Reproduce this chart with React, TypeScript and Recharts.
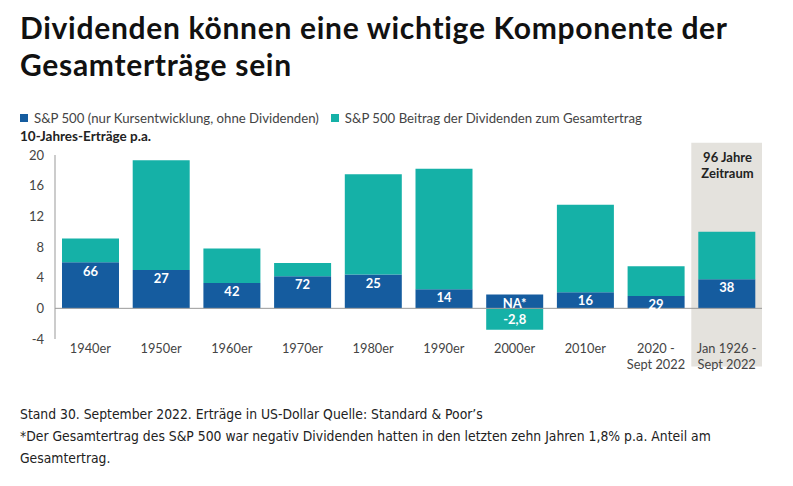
import React from "react";
import {
  BarChart,
  Bar,
  XAxis,
  YAxis,
  ReferenceLine,
  ReferenceArea,
  LabelList,
} from "recharts";

const categories = [
  "1940er",
  "1950er",
  "1960er",
  "1970er",
  "1980er",
  "1990er",
  "2000er",
  "2010er",
  "2020 - Sept 2022",
  "Jan 1926 - Sept 2022",
];
const priceReturn = [6.0, 5.0, 3.3, 4.2, 4.4, 2.5, 1.8, 2.1, 1.6, 3.8];
const dividendReturn = [3.1, 14.3, 4.5, 1.7, 13.1, 15.7, -2.8, 11.4, 3.9, 6.2];
const dividendShare = ["66", "27", "42", "72", "25", "14", "NA*", "16", "29", "38"];
const dividendLabels = ["", "", "", "", "", "", "-2,8", "", "", ""];
const yTicks = [-4, 0, 4, 8, 12, 16, 20];

const BLUE = "#155c9f";
const TEAL = "#15b1a7";
const FONT = "Lato, 'Noto Sans', sans-serif";

const data = categories.map((name, i) => ({
  name,
  price: priceReturn[i],
  dividend: dividendReturn[i],
  share: dividendShare[i],
  divLabel: dividendLabels[i],
}));

function CategoryTick(props: any) {
  const { x, y, payload } = props;
  const parts = String(payload.value).split(" - ");
  const lines = parts.length > 1 ? [parts[0] + " -", parts[1]] : parts;
  return (
    <g>
      {lines.map((l, i) => (
        <text
          key={i}
          x={x}
          y={y + 6 + i * 15.5}
          textAnchor="middle"
          fill="#444"
          fontSize={12.8}
          fontFamily={FONT}
        >
          {l}
        </text>
      ))}
    </g>
  );
}

function Swatch({ color }: { color: string }) {
  return (
    <span
      style={{
        display: "inline-block",
        width: 8,
        height: 8,
        background: color,
        marginRight: 6,
        verticalAlign: "1px",
      }}
    />
  );
}

export default function App() {
  return (
    <div
      style={{
        position: "absolute",
        left: 0,
        top: 0,
        width: 793,
        height: 486,
        background: "#fff",
        fontFamily: FONT,
        overflow: "hidden",
      }}
    >
      <BarChart
        width={793}
        height={486}
        data={data}
        stackOffset="sign"
        barSize={57}
        margin={{ top: 155, right: 31, bottom: 117, left: 25 }}
        style={{ position: "absolute", left: 0, top: 0 }}
      >
        <ReferenceArea
          x1={categories[9]}
          x2={categories[9]}
          y1={-7.6}
          y2={21.6}
          fill="#e4e2dd"
          fillOpacity={1}
          stroke="none"
          ifOverflow="visible"
        />
        <XAxis
          dataKey="name"
          axisLine={false}
          tickLine={false}
          interval={0}
          height={30}
          tick={<CategoryTick />}
        />
        <YAxis
          domain={[-4, 20]}
          ticks={yTicks}
          width={30}
          tickLine={false}
          tickMargin={5}
          axisLine={{ stroke: "#999" }}
          tick={{ fill: "#444", fontSize: 13, fontFamily: FONT }}
        />
        <ReferenceLine y={0} stroke="#999" />
        <Bar dataKey="price" stackId="a" fill={BLUE} isAnimationActive={false}>
          <LabelList
            dataKey="share"
            position="insideTop"
            offset={4}
            fill="#fff"
            fontSize={13}
            fontWeight={700}
            fontFamily={FONT}
          />
        </Bar>
        <Bar dataKey="dividend" stackId="a" fill={TEAL} isAnimationActive={false}>
          <LabelList
            dataKey="divLabel"
            position="center"
            fill="#fff"
            fontSize={13}
            fontWeight={700}
            fontFamily={FONT}
          />
        </Bar>
      </BarChart>

      <div
        style={{
          position: "absolute",
          left: 20,
          top: 9,
          fontSize: 30,
          fontWeight: 700,
          letterSpacing: 0.7,
          lineHeight: "37px",
          color: "#111",
          whiteSpace: "nowrap",
        }}
      >
        Dividenden können eine wichtige Komponente der
        <br />
        Gesamterträge sein
      </div>

      <div
        style={{
          position: "absolute",
          left: 20,
          top: 110,
          fontSize: 13.2,
          color: "#444",
          whiteSpace: "nowrap",
        }}
      >
        <Swatch color={BLUE} />
        S&amp;P 500 (nur Kursentwicklung, ohne Dividenden)
        <span style={{ display: "inline-block", width: 12 }} />
        <Swatch color={TEAL} />
        S&amp;P 500 Beitrag der Dividenden zum Gesamtertrag
      </div>

      <div
        style={{
          position: "absolute",
          left: 20,
          top: 128,
          fontSize: 13.5,
          fontWeight: 700,
          color: "#222",
        }}
      >
        10-Jahres-Erträge p.a.
      </div>

      <div
        style={{
          position: "absolute",
          left: 692,
          width: 71,
          top: 149,
          fontSize: 13,
          fontWeight: 700,
          lineHeight: "16px",
          color: "#222",
          textAlign: "center",
        }}
      >
        96 Jahre
        <br />
        Zeitraum
      </div>

      <div
        style={{
          position: "absolute",
          left: 20,
          top: 403,
          width: 760,
          fontSize: 13.8,
          lineHeight: "22px",
          color: "#222",
          whiteSpace: "nowrap",
          fontFamily: "'Liberation Sans Narrow', 'DejaVu Sans Condensed', sans-serif",
        }}
      >
        Stand 30. September 2022. Erträge in US-Dollar Quelle: Standard &amp; Poor’s
        <br />
        *Der Gesamtertrag des S&amp;P 500 war negativ Dividenden hatten in den letzten zehn
        Jahren 1,8% p.a. Anteil am
        <br />
        Gesamtertrag.
      </div>
    </div>
  );
}
